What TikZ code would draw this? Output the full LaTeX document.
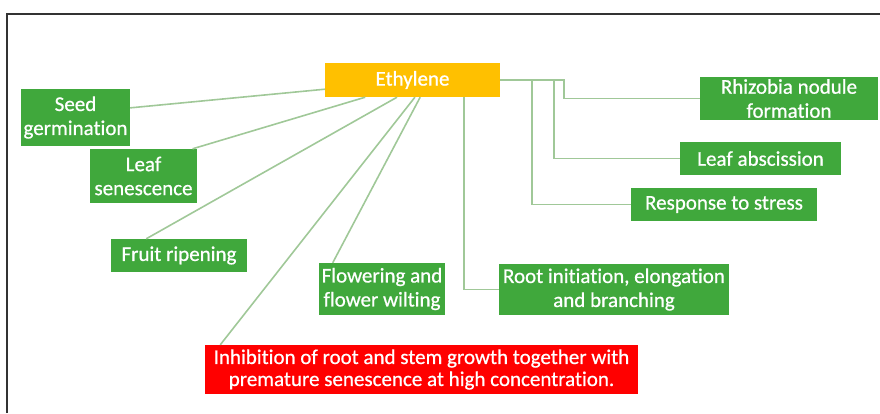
\documentclass[tikz,border=0pt]{standalone}
\usepackage{fontspec}
\setmainfont{Carlito}[FakeBold=0.7, Ligatures=NoCommon]
\definecolor{leafgreen}{RGB}{64,168,60}
\definecolor{ethyellow}{RGB}{255,192,0}
\definecolor{linkgreen}{RGB}{160,200,152}
\begin{document}
\begin{tikzpicture}[x=1pt,y=-1pt,
    box/.style={fill=leafgreen, text=white, align=center, inner sep=0pt,
        font=\fontsize{21}{24}\selectfont},
    link/.style={draw=linkgreen, line width=1.6pt}]
            \useasboundingbox (0,0) rectangle (880,413);
            \draw[line width=2.2pt, black!80] (7,413) -- (7,14) -- (880,14);
            % hormone and its effects
            \node[box, fill=ethyellow, minimum width=175, minimum height=34] (eth) at (412.5,80) {Ethylene};
            \node[box, minimum width=109, minimum height=57] (seed) at (75.5,117.5) {Seed\\germination};
            \node[box, minimum width=107, minimum height=54] (leafsen) at (143.5,176) {Leaf\\senescence};
            \node[box, minimum width=136, minimum height=33] (fruit) at (179,255.5) {Fruit ripening};
            \node[box, minimum width=126, minimum height=52] (flower) at (382,289) {Flowering and\\flower wilting};
            \node[box, fill=red, minimum width=433, minimum height=49, font=\fontsize{21}{22}\selectfont] (inhib) at (421.5,369.5)
                {Inhibition of root and stem growth together with\\premature senescence at high concentration.};
            \node[box, minimum width=230, minimum height=51] (root) at (614,289.5) {Root initiation, elongation\\and branching};
            \node[box, minimum width=178, minimum height=43] (rhizo) at (789,98.5) {Rhizobia nodule\\formation};
            \node[box, minimum width=161, minimum height=33] (abs) at (760.5,158.5) {Leaf abscission};
            \node[box, minimum width=186, minimum height=33] (stress) at (724,204.5) {Response to stress};
            % straight links on the left
            \draw[link] (seed.10) -- (eth.186);
            \draw[link] (leafsen.29) -- (eth.200);
            \draw[link] (fruit.153) -- (eth.228);
            \draw[link] (inhib.173) -- (eth.278);
            \draw[link] (flower.152) -- (eth.294);
            % elbow links on the right
            \coordinate (j1) at (532,80);
            \coordinate (j2) at (554,80);
            \coordinate (j3) at (564,80);
            \draw[link] (eth.east) -- (j3) |- (rhizo.west);
            \draw[link] (j2) |- (abs.west);
            \draw[link] (j1) |- (stress.west);
            \draw[link] ([xshift=51.5pt]eth.south) |- (root.west);
        \end{tikzpicture}
\end{document}
